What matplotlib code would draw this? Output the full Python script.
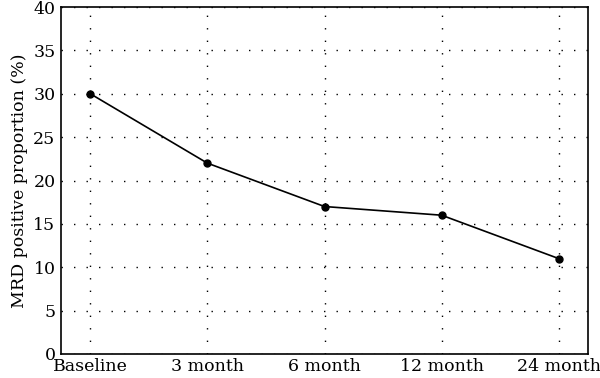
import matplotlib
matplotlib.use("Agg")
import matplotlib.pyplot as plt

categories = ["Baseline", "3 month", "6 month", "12 month", "24 month"]
mrd_positive = [30, 22, 17, 16, 11]
y_ticks = [0, 5, 10, 15, 20, 25, 30, 35, 40]

plt.rcParams['font.family'] = ['DejaVu Serif']

fig = plt.figure(figsize=(6, 3.78), dpi=100)
ax = fig.add_axes([61 / 600, 24 / 378, 527 / 600, 347 / 378])

x = list(range(len(categories)))
ax.plot(x, mrd_positive, color="black", lw=1.2, marker="o", ms=5, zorder=3)

ax.set_xlim(-0.25, len(categories) - 0.75)
ax.set_ylim(0, 40)
ax.set_xticks(x)
ax.set_xticklabels(categories)
ax.set_yticks(y_ticks)
ax.tick_params(length=0, labelsize=12.5, pad=4)
ax.tick_params(axis="x", pad=3)
ax.grid(True, linestyle=(0, (1, 8)), color="black", lw=1.0)
for s in ax.spines.values():
    s.set_linewidth(1.2)
ax.set_ylabel("MRD positive proportion (%)", fontsize=12.5, labelpad=4)

fig.savefig("out.png", dpi=100)
